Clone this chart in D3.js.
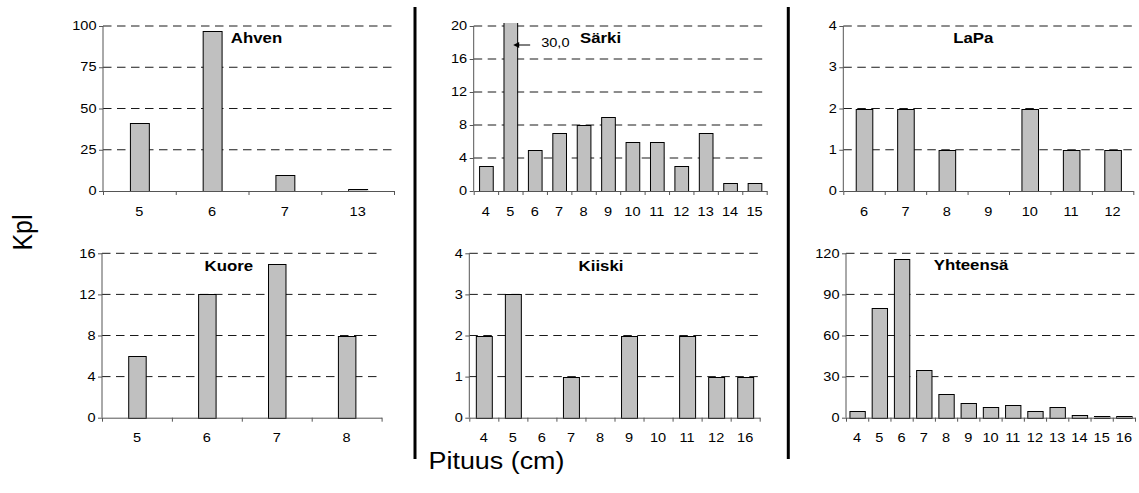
<!DOCTYPE html>
<html>
<head>
<meta charset="utf-8">
<script src="https://cdn.jsdelivr.net/npm/d3@7"></script>
<style>
  body { margin: 0; background: #fff; }
  svg { display: block; }
  text { font-family: Arial, "Liberation Sans", sans-serif; fill: #000; }
</style>
</head>
<body>
<svg id="chart" width="1139" height="493"></svg>
<script>
// Catch by length class (cm) for each species, and the total.
const ahvenLengths = ["5", "6", "7", "13"];
const ahvenCounts  = [41, 97, 10, 1];
const ahvenTicks   = [0, 25, 50, 75, 100];

const sarkiLengths = ["4", "5", "6", "7", "8", "9", "10", "11", "12", "13", "14", "15"];
const sarkiCounts  = [3, 30, 5, 7, 8, 9, 6, 6, 3, 7, 1, 1];
const sarkiTicks   = [0, 4, 8, 12, 16, 20];

const lapaLengths = ["6", "7", "8", "9", "10", "11", "12"];
const lapaCounts  = [2, 2, 1, 0, 2, 1, 1];
const lapaTicks   = [0, 1, 2, 3, 4];

const kuoreLengths = ["5", "6", "7", "8"];
const kuoreCounts  = [6, 12, 15, 8];
const kuoreTicks   = [0, 4, 8, 12, 16];

const kiiskiLengths = ["4", "5", "6", "7", "8", "9", "10", "11", "12", "16"];
const kiiskiCounts  = [2, 3, 0, 1, 0, 2, 0, 2, 1, 1];
const kiiskiTicks   = [0, 1, 2, 3, 4];

const totalLengths = ["4", "5", "6", "7", "8", "9", "10", "11", "12", "13", "14", "15", "16"];
const totalCounts  = [5, 80, 116, 35, 17, 11, 8, 9, 5, 8, 2, 1, 1];
const totalTicks   = [0, 30, 60, 90, 120];

// Panel placement on the page
const panels = [
  { title: "Ahven",    cats: ahvenLengths,  vals: ahvenCounts,  ticks: ahvenTicks,
    x0: 103,   x1: 394,    top: 26,    base: 191,   bar: 0.26, tx: 256.5, ty: 37.5, anchor: "middle" },
  { title: "Särki",    cats: sarkiLengths,  vals: sarkiCounts,  ticks: sarkiTicks,
    x0: 473.7, x1: 766.7,  top: 26,    base: 191,   bar: 0.56, tx: 580,   ty: 38,   anchor: "start", note: "5" },
  { title: "LaPa",     cats: lapaLengths,   vals: lapaCounts,   ticks: lapaTicks,
    x0: 843.3, x1: 1133.3, top: 26,    base: 191,   bar: 0.40, tx: 973.3, ty: 37.5, anchor: "middle" },
  { title: "Kuore",    cats: kuoreLengths,  vals: kuoreCounts,  ticks: kuoreTicks,
    x0: 102,   x1: 381.6,  top: 253.3, base: 417.7, bar: 0.25, tx: 228.8, ty: 266,  anchor: "middle" },
  { title: "Kiiski",   cats: kiiskiLengths, vals: kiiskiCounts, ticks: kiiskiTicks,
    x0: 469.3, x1: 759.7,  top: 253.3, base: 417.7, bar: 0.55, tx: 601,   ty: 266,  anchor: "middle" },
  { title: "Yhteensä", cats: totalLengths,  vals: totalCounts,  ticks: totalTicks,
    x0: 846,   x1: 1135,   top: 253.3, base: 417.7, bar: 0.69, tx: 971,   ty: 265,  anchor: "middle" }
];

const svg = d3.select("#chart");
const SX = 1.12; // text is set slightly wide

function label(parent, x, y, str, opts = {}) {
  const t = parent.append("text")
    .attr("transform", `translate(${x},${y}) scale(${SX},1)` + (opts.rotate ? ` rotate(${opts.rotate})` : ""))
    .attr("text-anchor", opts.anchor || "middle")
    .attr("dominant-baseline", opts.baseline || "central")
    .style("font-size", (opts.size || 13) + "px")
    .text(str);
  if (opts.bold) t.style("font-weight", "bold");
  return t;
}

const commaFmt = v => d3.format(".1f")(v).replace(".", ",");

panels.forEach(p => {
  const g = svg.append("g");
  const yMax = d3.max(p.ticks);
  const x = d3.scaleBand()
    .domain(p.cats)
    .range([p.x0, p.x1])
    .paddingInner(1 - p.bar)
    .paddingOuter((1 - p.bar) / 2);
  const y = d3.scaleLinear()
    .domain([0, yMax])
    .range([p.base, p.top])
    .clamp(true);

  // dashed gridlines
  g.selectAll("line.grid")
    .data(p.ticks.filter(v => v > 0))
    .join("line")
    .attr("class", "grid")
    .attr("x1", p.x0).attr("x2", p.x1)
    .attr("y1", d => y(d)).attr("y2", d => y(d))
    .attr("stroke", "#1a1a1a")
    .attr("stroke-width", 1)
    .attr("stroke-dasharray", "8.5,5.5");

  const data = p.cats.map((c, i) => ({ c, v: p.vals[i] })).filter(d => d.v > 0);

  // bars within the axis range
  g.selectAll("rect.bar")
    .data(data.filter(d => d.v <= yMax))
    .join("rect")
    .attr("class", "bar")
    .attr("x", d => x(d.c) + 0.5)
    .attr("width", x.bandwidth())
    .attr("y", d => Math.round(y(d.v)) + 0.5)
    .attr("height", d => Math.max(0, Math.round(p.base) - Math.round(y(d.v))))
    .attr("fill", "#c0c0c0")
    .attr("stroke", "#000")
    .attr("stroke-width", 1);

  // bars beyond the axis range: cut off just above the top, open-ended
  const over = data.filter(d => d.v > yMax);
  over.forEach(d => {
    const xl = x(d.c) + 0.5, xr = xl + x.bandwidth();
    const yt = y(d.v) - 3, yb = Math.round(p.base) + 0.5;
    g.append("rect")
      .attr("x", xl).attr("y", yt)
      .attr("width", x.bandwidth()).attr("height", yb - yt)
      .attr("fill", "#c0c0c0");
    g.append("path")
      .attr("d", `M${xl},${yt}V${yb}H${xr}V${yt}`)
      .attr("fill", "none")
      .attr("stroke", "#000")
      .attr("stroke-width", 1);
  });

  // y axis with outward ticks
  const yAxis = g.append("g")
    .attr("transform", `translate(${p.x0},0)`)
    .call(d3.axisLeft(y).tickValues(p.ticks).tickSize(4).tickFormat(""));
  yAxis.select(".domain").attr("stroke", "#555").attr("d", `M0,${p.top}V${p.base}`);
  yAxis.selectAll(".tick line").attr("stroke", "#555");

  // x axis: line with ticks between categories
  const step = x.step();
  const edges = d3.range(p.cats.length + 1).map(i => p.x0 + i * step);
  const xAxis = g.append("g")
    .attr("transform", `translate(0,${p.base})`)
    .call(d3.axisBottom(d3.scaleLinear().domain([p.x0, p.x1]).range([p.x0, p.x1]))
      .tickValues(edges).tickSize(4).tickSizeOuter(0).tickFormat(""));
  xAxis.select(".domain").attr("stroke", "#555");
  xAxis.selectAll(".tick line").attr("stroke", "#555");

  // tick labels
  p.ticks.forEach(v => label(g, p.x0 - 6.5, y(v), String(v), { anchor: "end" }));
  p.cats.forEach(c => label(g, x(c) + x.bandwidth() / 2, p.base + 20.5, c));

  // panel title
  label(g, p.tx, p.ty, p.title, { bold: true, size: 15, anchor: p.anchor });

  // off-scale bar: arrow with its value
  if (p.note) {
    const i = p.cats.indexOf(p.note);
    const v = p.vals[i];
    const xr = x(p.note) + x.bandwidth() + 0.5;
    const ya = 45;
    const tip = xr - 4.5;
    g.append("line")
      .attr("x1", tip + 17).attr("x2", tip + 4)
      .attr("y1", ya).attr("y2", ya)
      .attr("stroke", "#000").attr("stroke-width", 1);
    g.append("path")
      .attr("d", `M${tip},${ya}L${tip + 6},${ya - 3}L${tip + 6},${ya + 3}Z`)
      .attr("fill", "#000");
    label(g, xr + 23.5, 42.5, commaFmt(v), { anchor: "start" });
  }
});

// vertical separators between panel columns
svg.selectAll("line.sep")
  .data([415, 788.3])
  .join("line")
  .attr("class", "sep")
  .attr("x1", d => d).attr("x2", d => d)
  .attr("y1", 7).attr("y2", 459)
  .attr("stroke", "#000")
  .attr("stroke-width", 3);

// shared axis titles
label(svg, 23, 232.5, "Kpl", { size: 25, rotate: -90 });
label(svg, 496.5, 461, "Pituus (cm)", { size: 24 });
</script>
</body>
</html>
